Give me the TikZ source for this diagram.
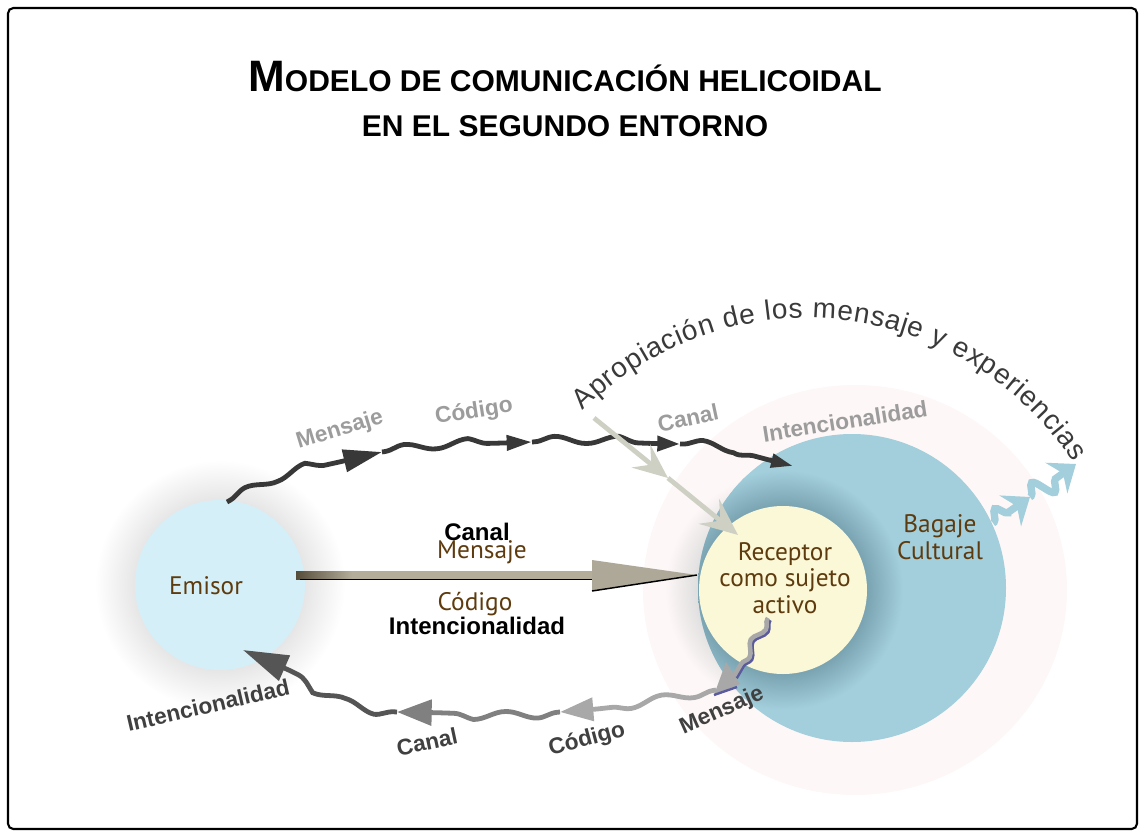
\documentclass[tikz,border=0pt]{standalone}
\usepackage{fontspec}
\setmainfont{Liberation Sans}
\newfontfamily\brownfont{PT Sans}
\usetikzlibrary{arrows.meta,decorations.pathmorphing,decorations.text,calc}
\definecolor{emisorfill}{HTML}{D5EFF8}
\definecolor{bagaje}{HTML}{A3CEDB}
\definecolor{recept}{HTML}{FBF8D7}
\definecolor{brownt}{HTML}{5E3B0E}
\definecolor{topc}{HTML}{383838}
\definecolor{lgrey}{HTML}{9C9C9C}
\definecolor{labdark}{HTML}{404040}
\definecolor{arcgrey}{HTML}{3A3A3A}
\definecolor{approp}{HTML}{CFD0C4}
\definecolor{shaftc}{HTML}{B3AD9A}
\definecolor{shaftd}{HTML}{564C3A}
\definecolor{headc}{HTML}{ADA898}
\definecolor{pinkh}{HTML}{FEF7F7}
\definecolor{halog}{HTML}{E6E6E6}
\definecolor{ringd}{HTML}{7BA4B2}
\definecolor{greyr}{HTML}{DADADA}
\definecolor{bA}{HTML}{A8A8A8}
\definecolor{bB}{HTML}{808080}
\definecolor{bC}{HTML}{555555}
\definecolor{bluel}{HTML}{5A5A9C}
\pgfdeclareradialshading{emhalo}{\pgfpoint{0bp}{0bp}}{color(0bp)=(halog); color(17bp)=(halog); color(25bp)=(white); color(50bp)=(white)}
\pgfdeclareradialshading{ringsh}{\pgfpoint{0bp}{0bp}}{color(0bp)=(ringd); color(17.6bp)=(ringd); color(25bp)=(bagaje); color(50bp)=(bagaje)}
\pgfdeclareradialshading{rechalo}{\pgfpoint{0bp}{0bp}}{color(0bp)=(greyr); color(17bp)=(greyr); color(25bp)=(pinkh); color(50bp)=(pinkh)}
\newcommand\arcfnt{\fontsize{21pt}{21pt}\selectfont\color{arcgrey}}
\begin{document}
\begin{tikzpicture}[x=0.75pt,y=-0.75pt,
  lab/.style={font=\fontsize{17pt}{17pt}\selectfont\bfseries, inner sep=0pt},
  brn/.style={font=\brownfont\fontsize{19pt}{20pt}\selectfont, text=brownt, inner sep=0pt, align=center},
  wave/.style={decorate, decoration={snake, segment length=48pt, amplitude=3pt, pre length=2pt, post length=#1}, line width=3.6pt},
  swave/.style={decorate, decoration={snake, segment length=24pt, amplitude=3pt, pre length=1pt, post length=#1}},
  zig/.style={bagaje, line width=5.5pt, decorate, decoration={snake, segment length=20pt, amplitude=8pt, pre length=1pt, post length=18pt}, -{Stealth[length=18pt,width=28pt,inset=6pt]}}
]
\useasboundingbox (0,0) rectangle (1140,832);
\draw[line width=1.6pt, rounded corners=4pt] (8,8) rectangle (1137,829);

% title
\node[anchor=base, inner sep=0pt] (title1) at (565,91) {\bfseries\fontsize{33pt}{33pt}\selectfont M\fontsize{22.5pt}{22.5pt}\selectfont ODELO DE COMUNICACIÓN HELICOIDAL};
\node[anchor=base, inner sep=0pt] (title2) at (565,136) {\bfseries\fontsize{22.5pt}{22.5pt}\selectfont EN EL SEGUNDO ENTORNO};

% backgrounds right
\fill[pinkh] (855,590) ellipse[x radius=212, y radius=205];
\shade[shading=rechalo] (783,590) circle[radius=118];
\node[circle, fill=bagaje, minimum size=231pt, inner sep=0pt] (bag) at (852,588) {};
\begin{scope}
  \clip (852,588) circle[radius=154];
  \shade[shading=ringsh] (783,590) circle[radius=120];
\end{scope}
\node[circle, fill=recept, minimum size=126pt, inner sep=0pt] (rec) at (783,590) {};

% emisor
\shade[shading=emhalo] (220,585) circle[radius=125];
\node[circle, fill=emisorfill, minimum size=127.5pt, inner sep=0pt] (emi) at (220,585) {};

% texts in circles
\node[brn] (temisor) at (206,586) {Emisor};
\node[brn] (trecep) at (785,578) {Receptor\\como sujeto\\activo};
\node[brn] (tbagaje) at (940,537) {Bagaje\\Cultural};

% coordinates
\coordinate (p0) at (227,502);
\coordinate (h1) at (382,452);
\coordinate (h2) at (532,442);
\coordinate (h3) at (680,444);
\coordinate (h4) at (793,466);
\coordinate (q0) at (716,690);
\coordinate (g1) at (560,712);
\coordinate (g2) at (397,712);
\coordinate (g3) at (243,650);
\coordinate (w0) at (768,618);
\coordinate (w1) at (734,676);
\coordinate (a0) at (594,418);
\coordinate (a1) at (668,478);
\coordinate (a2) at (738,535);
\coordinate (ms) at (296,575);
\coordinate (mh) at (592,575);
\coordinate (me) at (697,575);
\coordinate (z0) at (993,523);
\coordinate (z1) at (1030,497);
\coordinate (z2) at (1076,464);

% top wavy path
\draw[wave=33pt, topc, -{Triangle[length=29pt,width=16.5pt]}] (p0) .. controls +(50,-28) and +(-50,12) .. (h1);
\draw[wave=22pt, topc, -{Triangle[length=19pt,width=11pt]}] (h1) .. controls +(50,-8) and +(-50,2) .. (h2);
\draw[wave=21pt, topc, -{Triangle[length=17pt,width=11pt]}] (h2) .. controls +(50,-4) and +(-50,0) .. (h3);
\draw[wave=20pt, topc, -{Triangle[length=16.5pt,width=10pt]}] (h3) .. controls +(30,0) and +(-40,-10) .. (h4);

% bottom return path
\draw[wave=28pt, bA, -{Triangle[length=25pt,width=17pt]}] (q0) .. controls +(-50,8) and +(50,-2) .. (g1);
\draw[wave=30pt, bB, -{Triangle[length=26pt,width=19pt]}] (g1) .. controls +(-50,5) and +(50,0) .. (g2);
\draw[wave=38pt, bC, -{Triangle[length=34pt,width=20pt]}] (g2) .. controls +(-45,-2) and +(60,22) .. (g3);

% receptor outgoing wavy (Mensaje)
\draw[swave=2pt, bluel, line width=3pt] ($(w0)+(2,2)$) -- ($(w1)+(2,2)$);
\draw[swave=2pt, bA, line width=3.4pt] (w0) -- (w1);
\fill[bA] (726,662) -- (740,684) -- (714,695) -- cycle;
\draw[bluel, line width=1.8pt] (714,695) -- (737,687);

% apropiacion arrow
\draw[approp, line width=3.6pt, -{Stealth[length=26pt,width=22pt,inset=10pt]}] (a0) -- (a1);
\draw[approp, line width=3.6pt, -{Stealth[length=28pt,width=24pt,inset=11pt]}] (a1) -- (a2);

% arc text
\path[decorate, decoration={text along path, text align={fit to path}, text={|\arcfnt|Apropiación de los mensaje y experiencias}}]
  (583,411) arc[start angle=-135, end angle=-33, radius=317];

% blue zigzag
\draw[zig] (z0) -- (z1);
\draw[zig] (z1) -- (z2);

% middle arrow
\shade[left color=shaftd, right color=shaftc] (ms) ++(0,-4) rectangle (352,579);
\fill[shaftc] (352,571) rectangle (mh |- 0,579);
\fill[headc] (592,560) -- (me) -- (592,591) -- cycle;
\draw[black, line width=1.1pt] (300,579.5) -- (592,579.5);
\draw[black, line width=1.1pt] (592,591) -- (me);

% middle labels
\node[lab, font=\fontsize{18pt}{18pt}\selectfont\bfseries] (mcanal) at (477,532) {Canal};
\node[brn] (mmens) at (482,552) {Mensaje};
\node[brn] (mcod) at (475,604) {Código};
\node[lab, font=\fontsize{18pt}{18pt}\selectfont\bfseries] (mint) at (477,626) {Intencionalidad};

% top labels
\node[lab, text=lgrey, rotate=17] (lmens1) at (340,430) {Mensaje};
\node[lab, text=lgrey, rotate=9] (lcod1) at (474,412) {Código};
\node[lab, text=lgrey, rotate=12] (lcan1) at (688,418) {Canal};
\node[lab, text=lgrey, rotate=9] (lint1) at (845,421) {Intencionalidad};

% bottom labels
\node[lab, text=labdark, rotate=13] (lint2) at (208,705) {Intencionalidad};
\node[lab, text=labdark, rotate=12] (lcan2) at (427,742) {Canal};
\node[lab, text=labdark, rotate=15] (lcod2) at (587,740) {Código};
\node[lab, text=labdark, rotate=24] (lmens2) at (722,711) {Mensaje};
\end{tikzpicture}
\end{document}
